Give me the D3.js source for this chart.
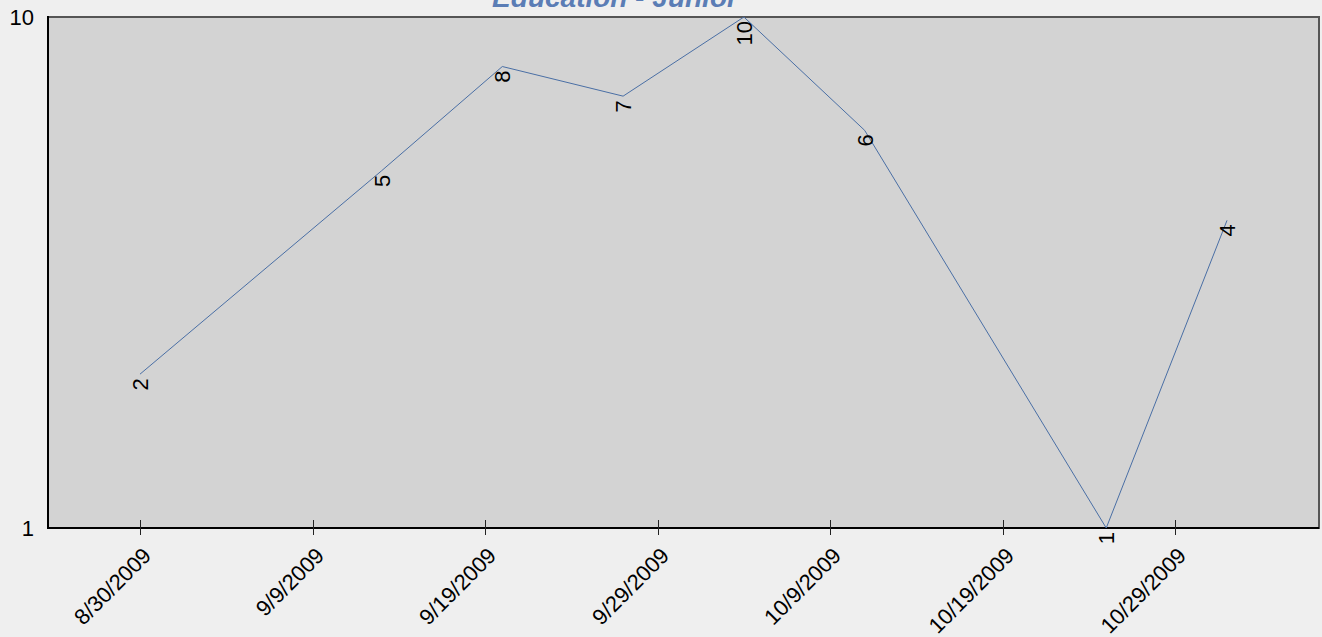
<!DOCTYPE html>
<html>
<head>
<meta charset="utf-8">
<script src="https://cdn.jsdelivr.net/npm/d3@7"></script>
<style>
  html, body { margin: 0; padding: 0; background: #efefef; }
  svg { display: block; font-family: "Liberation Sans", Arial, sans-serif; }
</style>
</head>
<body>
<svg id="chart" width="1322" height="637"></svg>
<script>
const title = "Education - Junior";
const dates = ["2009-08-30", "2009-09-13", "2009-09-20", "2009-09-27", "2009-10-04", "2009-10-11", "2009-10-25", "2009-11-01"];
const values = [2, 5, 8, 7, 10, 6, 1, 4];
const xTickDates = ["2009-08-30", "2009-09-09", "2009-09-19", "2009-09-29", "2009-10-09", "2009-10-19", "2009-10-29"];
const yTicks = [1, 10];

const parse = d3.utcParse("%Y-%m-%d");
const data = dates.map((d, i) => ({ date: parse(d), value: values[i] }));

const svg = d3.select("#chart");
const pLeft = 48, pRight = 1319, pTop = 17, pBottom = 528;
const DAY = 864e5;
const pad = 5.33 * DAY;
const x = d3.scaleUtc()
  .domain([new Date(+data[0].date - pad), new Date(+data[data.length - 1].date + pad)])
  .range([pLeft, pRight]);
const y = d3.scaleLog().domain([1, 10]).range([pBottom, pTop]);

// plot background
svg.append("rect")
  .attr("x", pLeft).attr("y", pTop)
  .attr("width", pRight - pLeft).attr("height", pBottom - pTop)
  .attr("fill", "#d3d3d3")
  .attr("stroke", "#555").attr("stroke-width", 2);

// title
svg.append("text")
  .attr("x", 615).attr("y", 7)
  .attr("text-anchor", "middle")
  .attr("font-size", 28).attr("font-weight", "bold").attr("font-style", "italic")
  .attr("fill", "#5b7db5")
  .text(title);

// axes lines
svg.append("line").attr("x1", pLeft).attr("x2", pLeft).attr("y1", pTop - 1).attr("y2", pBottom + 1)
  .attr("stroke", "#000").attr("stroke-width", 2);
svg.append("line").attr("x1", pLeft - 1).attr("x2", pRight).attr("y1", pBottom).attr("y2", pBottom)
  .attr("stroke", "#000").attr("stroke-width", 2);

// x ticks
const xt = svg.append("g");
xTickDates.forEach(s => {
  const d = parse(s);
  const px = Math.round(x(d)) + 0.5;
  xt.append("line").attr("x1", px).attr("x2", px).attr("y1", pBottom - 8).attr("y2", pBottom + 7)
    .attr("stroke", "#222").attr("stroke-width", 1);
  xt.append("text")
    .attr("transform", `translate(${px + 12},${pBottom + 29}) rotate(-45)`)
    .attr("text-anchor", "end")
    .attr("font-size", 22)
    .attr("fill", "#000")
    .text(d3.utcFormat("%-m/%-d/%Y")(d));
});

// y ticks
yTicks.forEach(v => {
  svg.append("text")
    .attr("x", 34).attr("y", y(v))
    .attr("dy", "0.36em")
    .attr("text-anchor", "end")
    .attr("font-size", 22)
    .attr("fill", "#000")
    .text(v);
});

// line
const line = d3.line().x(d => x(d.date)).y(d => y(d.value));
svg.append("path").datum(data)
  .attr("d", line)
  .attr("fill", "none")
  .attr("stroke", "#4a6fa5")
  .attr("stroke-width", 1);

// labels
svg.append("g").selectAll("text").data(data).join("text")
  .attr("transform", d => `translate(${x(d.date)},${y(d.value)}) rotate(-90)`)
  .attr("x", -4).attr("y", 8)
  .attr("text-anchor", "end")
  .attr("font-size", 22)
  .attr("fill", "#000")
  .text(d => d.value);
</script>
</body>
</html>
